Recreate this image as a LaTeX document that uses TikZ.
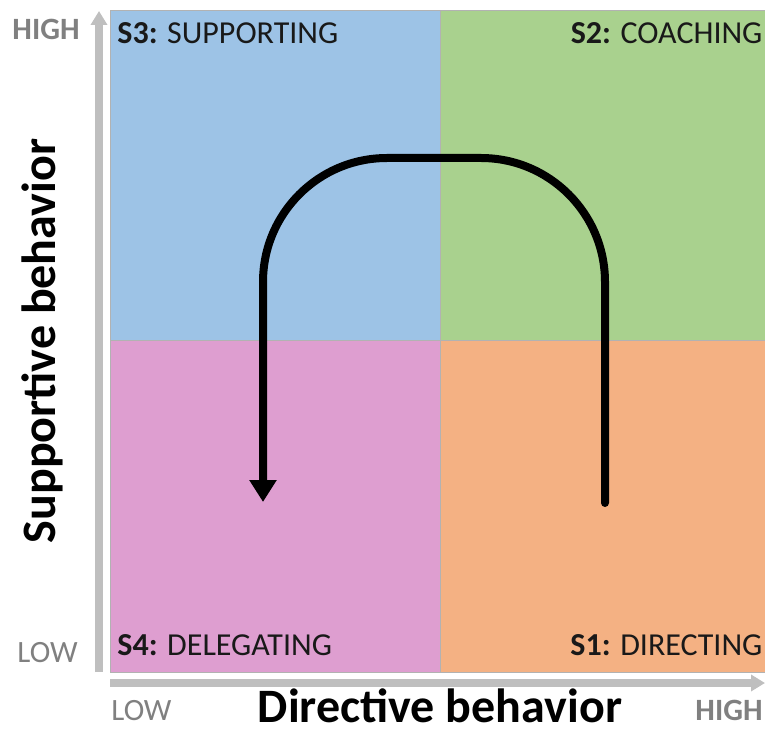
\documentclass[tikz,border=0pt]{standalone}
\usepackage{fontspec}
\setmainfont{Carlito}
\usepackage{xcolor}
\usetikzlibrary{arrows.meta,positioning,calc}

\definecolor{qblue}{RGB}{157,195,230}
\definecolor{qgreen}{RGB}{169,209,142}
\definecolor{qpink}{RGB}{222,158,208}
\definecolor{qorange}{RGB}{244,177,131}
\definecolor{axisgray}{RGB}{191,191,191}
\definecolor{lblgray}{RGB}{128,128,128}
\definecolor{txt}{RGB}{25,25,25}

\begin{document}
\begin{tikzpicture}[x=0.5pt, y=-0.5pt]
    \tikzset{
        quad/.style={draw=gray!60, line width=0.4pt, rectangle, anchor=north west, inner sep=0pt},
        lbl/.style={inner sep=0pt, text=txt, font=\fontsize{16}{19}\selectfont},
        lvl/.style={inner sep=0pt, text=lblgray, font=\fontsize{15.5}{18}\selectfont},
        ax/.style={draw=axisgray, line width=4pt, -{Triangle[width=8pt,length=7pt]}},
        turn/.style={line width=4pt, line cap=round, rounded corners=62pt, -{Triangle[width=13pt,length=11pt]}}
    }
    \useasboundingbox (0,0) rectangle (765,732);

    % quadrants
    \node [quad, fill=qblue,   minimum width=165pt,   minimum height=165pt] (s3) at (110,10) {};
    \node [quad, fill=qgreen,  minimum width=162.5pt, minimum height=165pt] (s2) at (440,10) {};
    \node [quad, fill=qpink,   minimum width=165pt,   minimum height=166pt] (s4) at (110,340) {};
    \node [quad, fill=qorange, minimum width=162.5pt, minimum height=166pt] (s1) at (440,340) {};

    \node [lbl, anchor=base west] (t3) at ($(s3.north west)+(7,34)$) {\textbf{S3:} SUPPORTING};
    \node [lbl, anchor=base east] (t2) at ($(s2.north east)+(-3,34)$) {\textbf{S2:} COACHING};
    \node [lbl, anchor=base west] (t4) at ($(s4.south west)+(7,-17)$) {\textbf{S4:} DELEGATING};
    \node [lbl, anchor=base east] (t1) at ($(s1.south east)+(-3,-17)$) {\textbf{S1:} DIRECTING};

    % axes
    \coordinate (yfoot) at (99,672);
    \coordinate (ytip) at (99,11);
    \coordinate (xfoot) at (110,683);
    \coordinate (xtip) at (765,683);
    \draw [ax] (yfoot) -- (ytip);
    \draw [ax] (xfoot) -- (xtip);

    \node [lvl, anchor=base east, font=\fontsize{15.5}{18}\bfseries] (yhigh) at (80,40) {HIGH};
    \node [lvl, anchor=base east] (ylow) at (78,662) {LOW};
    \node [lvl, anchor=base west] (xlow) at (111,720) {LOW};
    \node [lvl, anchor=base east, font=\fontsize{15.5}{18}\bfseries] (xhigh) at (763,720) {HIGH};

    \node [anchor=base, inner sep=0pt, font=\fontsize{24}{28}\bfseries] (xlab) at (440,722) {Directive behavior};
    \node [anchor=base, rotate=90, inner sep=0pt, font=\fontsize{24}{28}\bfseries] (ylab) at (55,341) {Supportive behavior};

    % development path
    \coordinate (start) at (605,503);
    \coordinate (stop) at (263,502);
    \draw [turn] (start) -- (start |- 0,158) -- (stop |- 0,158) -- (stop);

\end{tikzpicture}
\end{document}
